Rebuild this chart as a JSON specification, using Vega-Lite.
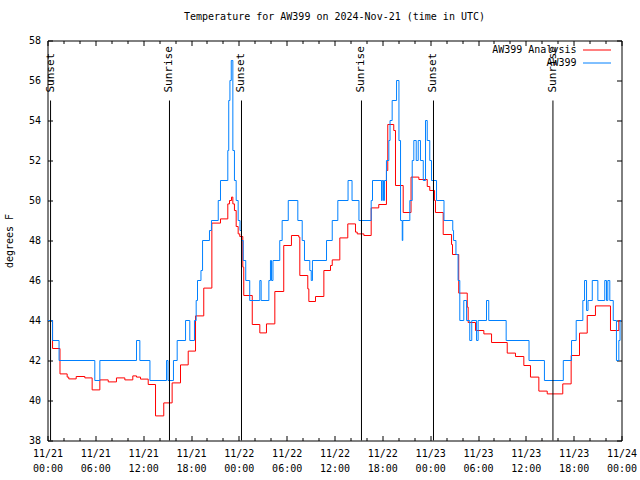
{
  "$schema": "https://vega.github.io/schema/vega-lite/v6.json",
  "width": 574,
  "height": 400,
  "autosize": {"type": "none"},
  "padding": {"left": 47.5, "top": 40.5, "right": 18.5, "bottom": 39.5},
  "title": {"text": "Temperature for AW399 on 2024-Nov-21 (time in UTC)", "offset": 14, "fontSize": 10, "font": "DejaVu Sans Mono", "fontWeight": "normal", "color": "black"},
  "datasets": {
    "obs": [
      {"t": "2024-11-21T00:00Z", "v": 44, "s": "AW399 Analysis"},
      {"t": "2024-11-21T00:38Z", "v": 42.6, "s": "AW399 Analysis"},
      {"t": "2024-11-21T01:34Z", "v": 41.33, "s": "AW399 Analysis"},
      {"t": "2024-11-21T02:28Z", "v": 41.17, "s": "AW399 Analysis"},
      {"t": "2024-11-21T02:40Z", "v": 41.08, "s": "AW399 Analysis"},
      {"t": "2024-11-21T03:36Z", "v": 41.2, "s": "AW399 Analysis"},
      {"t": "2024-11-21T04:41Z", "v": 41.13, "s": "AW399 Analysis"},
      {"t": "2024-11-21T05:36Z", "v": 40.53, "s": "AW399 Analysis"},
      {"t": "2024-11-21T06:34Z", "v": 41.03, "s": "AW399 Analysis"},
      {"t": "2024-11-21T07:37Z", "v": 40.93, "s": "AW399 Analysis"},
      {"t": "2024-11-21T08:39Z", "v": 41.13, "s": "AW399 Analysis"},
      {"t": "2024-11-21T09:42Z", "v": 41.03, "s": "AW399 Analysis"},
      {"t": "2024-11-21T10:42Z", "v": 41.23, "s": "AW399 Analysis"},
      {"t": "2024-11-21T11:10Z", "v": 41.17, "s": "AW399 Analysis"},
      {"t": "2024-11-21T11:40Z", "v": 41.07, "s": "AW399 Analysis"},
      {"t": "2024-11-21T12:38Z", "v": 40.8, "s": "AW399 Analysis"},
      {"t": "2024-11-21T13:33Z", "v": 39.23, "s": "AW399 Analysis"},
      {"t": "2024-11-21T14:35Z", "v": 39.88, "s": "AW399 Analysis"},
      {"t": "2024-11-21T15:38Z", "v": 40.88, "s": "AW399 Analysis"},
      {"t": "2024-11-21T16:41Z", "v": 41.78, "s": "AW399 Analysis"},
      {"t": "2024-11-21T17:39Z", "v": 42.47, "s": "AW399 Analysis"},
      {"t": "2024-11-21T18:34Z", "v": 44.23, "s": "AW399 Analysis"},
      {"t": "2024-11-21T19:36Z", "v": 45.62, "s": "AW399 Analysis"},
      {"t": "2024-11-21T20:37Z", "v": 48.87, "s": "AW399 Analysis"},
      {"t": "2024-11-21T21:42Z", "v": 49.08, "s": "AW399 Analysis"},
      {"t": "2024-11-21T22:37Z", "v": 49.83, "s": "AW399 Analysis"},
      {"t": "2024-11-21T22:50Z", "v": 50, "s": "AW399 Analysis"},
      {"t": "2024-11-21T23:05Z", "v": 50.17, "s": "AW399 Analysis"},
      {"t": "2024-11-21T23:15Z", "v": 49.83, "s": "AW399 Analysis"},
      {"t": "2024-11-21T23:27Z", "v": 49.5, "s": "AW399 Analysis"},
      {"t": "2024-11-21T23:40Z", "v": 48.7, "s": "AW399 Analysis"},
      {"t": "2024-11-21T23:55Z", "v": 48.33, "s": "AW399 Analysis"},
      {"t": "2024-11-22T00:07Z", "v": 48.2, "s": "AW399 Analysis"},
      {"t": "2024-11-22T00:30Z", "v": 46.67, "s": "AW399 Analysis"},
      {"t": "2024-11-22T00:37Z", "v": 45.25, "s": "AW399 Analysis"},
      {"t": "2024-11-22T01:41Z", "v": 43.8, "s": "AW399 Analysis"},
      {"t": "2024-11-22T02:38Z", "v": 43.38, "s": "AW399 Analysis"},
      {"t": "2024-11-22T03:28Z", "v": 43.83, "s": "AW399 Analysis"},
      {"t": "2024-11-22T04:31Z", "v": 45.45, "s": "AW399 Analysis"},
      {"t": "2024-11-22T05:38Z", "v": 47.75, "s": "AW399 Analysis"},
      {"t": "2024-11-22T06:36Z", "v": 48.25, "s": "AW399 Analysis"},
      {"t": "2024-11-22T07:31Z", "v": 48.17, "s": "AW399 Analysis"},
      {"t": "2024-11-22T07:39Z", "v": 46.25, "s": "AW399 Analysis"},
      {"t": "2024-11-22T08:39Z", "v": 45.58, "s": "AW399 Analysis"},
      {"t": "2024-11-22T08:47Z", "v": 44.95, "s": "AW399 Analysis"},
      {"t": "2024-11-22T09:37Z", "v": 45.2, "s": "AW399 Analysis"},
      {"t": "2024-11-22T10:40Z", "v": 46.5, "s": "AW399 Analysis"},
      {"t": "2024-11-22T11:30Z", "v": 46.75, "s": "AW399 Analysis"},
      {"t": "2024-11-22T11:43Z", "v": 47.03, "s": "AW399 Analysis"},
      {"t": "2024-11-22T12:40Z", "v": 48.13, "s": "AW399 Analysis"},
      {"t": "2024-11-22T13:40Z", "v": 48.83, "s": "AW399 Analysis"},
      {"t": "2024-11-22T14:38Z", "v": 48.42, "s": "AW399 Analysis"},
      {"t": "2024-11-22T14:51Z", "v": 48.33, "s": "AW399 Analysis"},
      {"t": "2024-11-22T15:41Z", "v": 48.25, "s": "AW399 Analysis"},
      {"t": "2024-11-22T16:36Z", "v": 49.63, "s": "AW399 Analysis"},
      {"t": "2024-11-22T17:33Z", "v": 49.8, "s": "AW399 Analysis"},
      {"t": "2024-11-22T18:31Z", "v": 51.5, "s": "AW399 Analysis"},
      {"t": "2024-11-22T18:41Z", "v": 53.8, "s": "AW399 Analysis"},
      {"t": "2024-11-22T19:26Z", "v": 53.5, "s": "AW399 Analysis"},
      {"t": "2024-11-22T19:39Z", "v": 50.75, "s": "AW399 Analysis"},
      {"t": "2024-11-22T20:37Z", "v": 49.4, "s": "AW399 Analysis"},
      {"t": "2024-11-22T21:36Z", "v": 51.17, "s": "AW399 Analysis"},
      {"t": "2024-11-22T22:35Z", "v": 51.05, "s": "AW399 Analysis"},
      {"t": "2024-11-22T23:38Z", "v": 50.7, "s": "AW399 Analysis"},
      {"t": "2024-11-22T23:57Z", "v": 50.5, "s": "AW399 Analysis"},
      {"t": "2024-11-23T00:33Z", "v": 50, "s": "AW399 Analysis"},
      {"t": "2024-11-23T00:40Z", "v": 49.4, "s": "AW399 Analysis"},
      {"t": "2024-11-23T01:38Z", "v": 48.3, "s": "AW399 Analysis"},
      {"t": "2024-11-23T02:41Z", "v": 47.8, "s": "AW399 Analysis"},
      {"t": "2024-11-23T02:48Z", "v": 47.3, "s": "AW399 Analysis"},
      {"t": "2024-11-23T03:35Z", "v": 45.37, "s": "AW399 Analysis"},
      {"t": "2024-11-23T04:39Z", "v": 44.67, "s": "AW399 Analysis"},
      {"t": "2024-11-23T04:46Z", "v": 43.9, "s": "AW399 Analysis"},
      {"t": "2024-11-23T05:41Z", "v": 43.5, "s": "AW399 Analysis"},
      {"t": "2024-11-23T06:44Z", "v": 43.33, "s": "AW399 Analysis"},
      {"t": "2024-11-23T07:42Z", "v": 42.9, "s": "AW399 Analysis"},
      {"t": "2024-11-23T09:40Z", "v": 42.37, "s": "AW399 Analysis"},
      {"t": "2024-11-23T10:42Z", "v": 42.2, "s": "AW399 Analysis"},
      {"t": "2024-11-23T11:45Z", "v": 41.75, "s": "AW399 Analysis"},
      {"t": "2024-11-23T12:35Z", "v": 41.17, "s": "AW399 Analysis"},
      {"t": "2024-11-23T13:38Z", "v": 40.47, "s": "AW399 Analysis"},
      {"t": "2024-11-23T14:41Z", "v": 40.33, "s": "AW399 Analysis"},
      {"t": "2024-11-23T16:38Z", "v": 40.83, "s": "AW399 Analysis"},
      {"t": "2024-11-23T17:41Z", "v": 42.25, "s": "AW399 Analysis"},
      {"t": "2024-11-23T18:44Z", "v": 43.37, "s": "AW399 Analysis"},
      {"t": "2024-11-23T19:42Z", "v": 44.25, "s": "AW399 Analysis"},
      {"t": "2024-11-23T20:44Z", "v": 44.73, "s": "AW399 Analysis"},
      {"t": "2024-11-23T22:37Z", "v": 43.5, "s": "AW399 Analysis"},
      {"t": "2024-11-23T23:40Z", "v": 44, "s": "AW399 Analysis"},
      {"t": "2024-11-24T00:00Z", "v": 44, "s": "AW399 Analysis"},
      {"t": "2024-11-21T00:00Z", "v": 44, "s": "AW399"},
      {"t": "2024-11-21T00:38Z", "v": 43, "s": "AW399"},
      {"t": "2024-11-21T01:27Z", "v": 42, "s": "AW399"},
      {"t": "2024-11-21T05:56Z", "v": 41, "s": "AW399"},
      {"t": "2024-11-21T06:34Z", "v": 42, "s": "AW399"},
      {"t": "2024-11-21T11:10Z", "v": 43, "s": "AW399"},
      {"t": "2024-11-21T11:35Z", "v": 42, "s": "AW399"},
      {"t": "2024-11-21T12:51Z", "v": 41, "s": "AW399"},
      {"t": "2024-11-21T14:56Z", "v": 42, "s": "AW399"},
      {"t": "2024-11-21T15:07Z", "v": 41, "s": "AW399"},
      {"t": "2024-11-21T15:48Z", "v": 42, "s": "AW399"},
      {"t": "2024-11-21T16:16Z", "v": 43, "s": "AW399"},
      {"t": "2024-11-21T17:19Z", "v": 44, "s": "AW399"},
      {"t": "2024-11-21T17:51Z", "v": 43, "s": "AW399"},
      {"t": "2024-11-21T18:26Z", "v": 44, "s": "AW399"},
      {"t": "2024-11-21T18:39Z", "v": 45, "s": "AW399"},
      {"t": "2024-11-21T18:49Z", "v": 46, "s": "AW399"},
      {"t": "2024-11-21T19:15Z", "v": 46.5, "s": "AW399"},
      {"t": "2024-11-21T19:27Z", "v": 48, "s": "AW399"},
      {"t": "2024-11-21T20:19Z", "v": 48.5, "s": "AW399"},
      {"t": "2024-11-21T20:34Z", "v": 49, "s": "AW399"},
      {"t": "2024-11-21T21:25Z", "v": 50, "s": "AW399"},
      {"t": "2024-11-21T21:42Z", "v": 51, "s": "AW399"},
      {"t": "2024-11-21T22:37Z", "v": 52.5, "s": "AW399"},
      {"t": "2024-11-21T22:44Z", "v": 55, "s": "AW399"},
      {"t": "2024-11-21T22:53Z", "v": 56, "s": "AW399"},
      {"t": "2024-11-21T23:03Z", "v": 57, "s": "AW399"},
      {"t": "2024-11-21T23:15Z", "v": 52.5, "s": "AW399"},
      {"t": "2024-11-21T23:27Z", "v": 51, "s": "AW399"},
      {"t": "2024-11-21T23:40Z", "v": 50, "s": "AW399"},
      {"t": "2024-11-21T23:55Z", "v": 49, "s": "AW399"},
      {"t": "2024-11-22T00:09Z", "v": 48.5, "s": "AW399"},
      {"t": "2024-11-22T00:20Z", "v": 48, "s": "AW399"},
      {"t": "2024-11-22T00:33Z", "v": 47, "s": "AW399"},
      {"t": "2024-11-22T00:52Z", "v": 46, "s": "AW399"},
      {"t": "2024-11-22T01:22Z", "v": 45, "s": "AW399"},
      {"t": "2024-11-22T02:38Z", "v": 46, "s": "AW399"},
      {"t": "2024-11-22T02:48Z", "v": 45, "s": "AW399"},
      {"t": "2024-11-22T03:46Z", "v": 46, "s": "AW399"},
      {"t": "2024-11-22T03:58Z", "v": 47, "s": "AW399"},
      {"t": "2024-11-22T04:06Z", "v": 46, "s": "AW399"},
      {"t": "2024-11-22T04:17Z", "v": 47, "s": "AW399"},
      {"t": "2024-11-22T05:08Z", "v": 48, "s": "AW399"},
      {"t": "2024-11-22T05:26Z", "v": 49, "s": "AW399"},
      {"t": "2024-11-22T06:12Z", "v": 50, "s": "AW399"},
      {"t": "2024-11-22T07:24Z", "v": 49, "s": "AW399"},
      {"t": "2024-11-22T07:57Z", "v": 48, "s": "AW399"},
      {"t": "2024-11-22T08:14Z", "v": 47, "s": "AW399"},
      {"t": "2024-11-22T08:54Z", "v": 46.5, "s": "AW399"},
      {"t": "2024-11-22T09:05Z", "v": 46, "s": "AW399"},
      {"t": "2024-11-22T09:14Z", "v": 47, "s": "AW399"},
      {"t": "2024-11-22T11:00Z", "v": 48, "s": "AW399"},
      {"t": "2024-11-22T11:43Z", "v": 49, "s": "AW399"},
      {"t": "2024-11-22T12:25Z", "v": 50, "s": "AW399"},
      {"t": "2024-11-22T13:42Z", "v": 51, "s": "AW399"},
      {"t": "2024-11-22T14:12Z", "v": 50, "s": "AW399"},
      {"t": "2024-11-22T15:04Z", "v": 49, "s": "AW399"},
      {"t": "2024-11-22T16:36Z", "v": 50, "s": "AW399"},
      {"t": "2024-11-22T16:46Z", "v": 51, "s": "AW399"},
      {"t": "2024-11-22T17:54Z", "v": 50, "s": "AW399"},
      {"t": "2024-11-22T17:59Z", "v": 51, "s": "AW399"},
      {"t": "2024-11-22T18:09Z", "v": 50, "s": "AW399"},
      {"t": "2024-11-22T18:16Z", "v": 51, "s": "AW399"},
      {"t": "2024-11-22T18:31Z", "v": 52, "s": "AW399"},
      {"t": "2024-11-22T18:49Z", "v": 53, "s": "AW399"},
      {"t": "2024-11-22T18:58Z", "v": 54, "s": "AW399"},
      {"t": "2024-11-22T19:14Z", "v": 55, "s": "AW399"},
      {"t": "2024-11-22T19:47Z", "v": 56, "s": "AW399"},
      {"t": "2024-11-22T20:05Z", "v": 53, "s": "AW399"},
      {"t": "2024-11-22T20:17Z", "v": 49, "s": "AW399"},
      {"t": "2024-11-22T20:30Z", "v": 48, "s": "AW399"},
      {"t": "2024-11-22T20:34Z", "v": 49, "s": "AW399"},
      {"t": "2024-11-22T21:27Z", "v": 50, "s": "AW399"},
      {"t": "2024-11-22T21:45Z", "v": 52, "s": "AW399"},
      {"t": "2024-11-22T21:57Z", "v": 53, "s": "AW399"},
      {"t": "2024-11-22T22:15Z", "v": 52, "s": "AW399"},
      {"t": "2024-11-22T22:30Z", "v": 53, "s": "AW399"},
      {"t": "2024-11-22T22:47Z", "v": 52, "s": "AW399"},
      {"t": "2024-11-22T23:08Z", "v": 51, "s": "AW399"},
      {"t": "2024-11-22T23:25Z", "v": 54, "s": "AW399"},
      {"t": "2024-11-22T23:38Z", "v": 53, "s": "AW399"},
      {"t": "2024-11-22T23:57Z", "v": 52, "s": "AW399"},
      {"t": "2024-11-23T00:10Z", "v": 51, "s": "AW399"},
      {"t": "2024-11-23T00:48Z", "v": 50, "s": "AW399"},
      {"t": "2024-11-23T01:44Z", "v": 49, "s": "AW399"},
      {"t": "2024-11-23T02:50Z", "v": 48.5, "s": "AW399"},
      {"t": "2024-11-23T02:56Z", "v": 48, "s": "AW399"},
      {"t": "2024-11-23T03:14Z", "v": 47.3, "s": "AW399"},
      {"t": "2024-11-23T03:30Z", "v": 46, "s": "AW399"},
      {"t": "2024-11-23T03:43Z", "v": 44, "s": "AW399"},
      {"t": "2024-11-23T04:13Z", "v": 45, "s": "AW399"},
      {"t": "2024-11-23T04:34Z", "v": 44, "s": "AW399"},
      {"t": "2024-11-23T04:58Z", "v": 43, "s": "AW399"},
      {"t": "2024-11-23T05:13Z", "v": 44, "s": "AW399"},
      {"t": "2024-11-23T05:49Z", "v": 43, "s": "AW399"},
      {"t": "2024-11-23T06:01Z", "v": 44, "s": "AW399"},
      {"t": "2024-11-23T07:04Z", "v": 45, "s": "AW399"},
      {"t": "2024-11-23T07:21Z", "v": 44, "s": "AW399"},
      {"t": "2024-11-23T09:32Z", "v": 43, "s": "AW399"},
      {"t": "2024-11-23T12:24Z", "v": 42, "s": "AW399"},
      {"t": "2024-11-23T14:20Z", "v": 41, "s": "AW399"},
      {"t": "2024-11-23T16:42Z", "v": 42, "s": "AW399"},
      {"t": "2024-11-23T17:44Z", "v": 43, "s": "AW399"},
      {"t": "2024-11-23T18:19Z", "v": 44, "s": "AW399"},
      {"t": "2024-11-23T19:09Z", "v": 45, "s": "AW399"},
      {"t": "2024-11-23T19:22Z", "v": 46, "s": "AW399"},
      {"t": "2024-11-23T19:37Z", "v": 44.5, "s": "AW399"},
      {"t": "2024-11-23T19:48Z", "v": 45, "s": "AW399"},
      {"t": "2024-11-23T20:20Z", "v": 46, "s": "AW399"},
      {"t": "2024-11-23T21:02Z", "v": 45, "s": "AW399"},
      {"t": "2024-11-23T21:54Z", "v": 46, "s": "AW399"},
      {"t": "2024-11-23T22:07Z", "v": 45, "s": "AW399"},
      {"t": "2024-11-23T22:17Z", "v": 46, "s": "AW399"},
      {"t": "2024-11-23T22:32Z", "v": 45, "s": "AW399"},
      {"t": "2024-11-23T22:58Z", "v": 44, "s": "AW399"},
      {"t": "2024-11-23T23:22Z", "v": 42, "s": "AW399"},
      {"t": "2024-11-23T23:40Z", "v": 43, "s": "AW399"},
      {"t": "2024-11-23T23:49Z", "v": 44, "s": "AW399"},
      {"t": "2024-11-24T00:00Z", "v": 44, "s": "AW399"}
    ],
    "sun": [
      {"t": "2024-11-21T00:23Z", "e": "Sunset"},
      {"t": "2024-11-21T15:18Z", "e": "Sunrise"},
      {"t": "2024-11-22T00:20Z", "e": "Sunset"},
      {"t": "2024-11-22T15:23Z", "e": "Sunrise"},
      {"t": "2024-11-23T00:25Z", "e": "Sunset"},
      {"t": "2024-11-23T15:24Z", "e": "Sunrise"}
    ]
  },
  "layer": [
    {
      "data": {"name": "obs"},
      "mark": {"type": "line", "interpolate": "step-after", "strokeWidth": 1, "clip": true},
      "encoding": {
        "x": {
          "field": "t", "type": "temporal",
          "scale": {"type": "utc", "nice": false, "domain": [{"year": 2024, "month": 11, "date": 21, "utc": true}, {"year": 2024, "month": 11, "date": 24, "utc": true}]},
          "axis": {"orient": "bottom", "values": [
            {"year": 2024, "month": 11, "date": 21, "hours": 0, "utc": true},
            {"year": 2024, "month": 11, "date": 21, "hours": 6, "utc": true},
            {"year": 2024, "month": 11, "date": 21, "hours": 12, "utc": true},
            {"year": 2024, "month": 11, "date": 21, "hours": 18, "utc": true},
            {"year": 2024, "month": 11, "date": 22, "hours": 0, "utc": true},
            {"year": 2024, "month": 11, "date": 22, "hours": 6, "utc": true},
            {"year": 2024, "month": 11, "date": 22, "hours": 12, "utc": true},
            {"year": 2024, "month": 11, "date": 22, "hours": 18, "utc": true},
            {"year": 2024, "month": 11, "date": 23, "hours": 0, "utc": true},
            {"year": 2024, "month": 11, "date": 23, "hours": 6, "utc": true},
            {"year": 2024, "month": 11, "date": 23, "hours": 12, "utc": true},
            {"year": 2024, "month": 11, "date": 23, "hours": 18, "utc": true},
            {"year": 2024, "month": 11, "date": 24, "hours": 0, "utc": true}
          ], "ticks": false, "tickSize": 0, "labelPadding": 8, "labelExpr": "[utcFormat(datum.value, '%m/%d'), utcFormat(datum.value, '%H:%M')]", "labelLineHeight": 15, "labelFlush": false, "labelOverlap": false, "labelBound": false, "title": null}
        },
        "y": {
          "field": "v", "type": "quantitative",
          "scale": {"domain": [38, 58], "nice": false, "zero": false},
          "axis": {"orient": "left", "values": [38, 40, 42, 44, 46, 48, 50, 52, 54, 56, 58], "ticks": false, "tickSize": 0, "labelPadding": 7, "title": "degrees F", "titlePadding": 14}
        },
        "color": {
          "field": "s", "type": "nominal",
          "scale": {"domain": ["AW399 Analysis", "AW399"], "range": ["#ff0000", "#0080ff"]},
          "legend": {"title": null, "orient": "none", "legendX": 521, "legendY": 2, "symbolType": "M1,0H5", "symbolSize": 196, "symbolStrokeWidth": 1, "labelFont": "DejaVu Sans Mono", "labelFontSize": 10, "labelColor": "black", "labelAlign": "right", "labelOffset": -7, "rowPadding": 0}
        }
      }
    },
    {
      "data": {"name": "sun"},
      "mark": {"type": "rule", "color": "black", "strokeWidth": 1},
      "encoding": {
        "x": {
          "field": "t", "type": "temporal",
          "scale": {"type": "utc", "nice": false, "domain": [{"year": 2024, "month": 11, "date": 21, "utc": true}, {"year": 2024, "month": 11, "date": 24, "utc": true}]},
          "axis": {"orient": "bottom", "offset": -5, "tickSize": 5, "labels": false, "title": null, "values": [
            {"year": 2024, "month": 11, "date": 21, "hours": 0, "utc": true},
            {"year": 2024, "month": 11, "date": 21, "hours": 6, "utc": true},
            {"year": 2024, "month": 11, "date": 21, "hours": 12, "utc": true},
            {"year": 2024, "month": 11, "date": 21, "hours": 18, "utc": true},
            {"year": 2024, "month": 11, "date": 22, "hours": 0, "utc": true},
            {"year": 2024, "month": 11, "date": 22, "hours": 6, "utc": true},
            {"year": 2024, "month": 11, "date": 22, "hours": 12, "utc": true},
            {"year": 2024, "month": 11, "date": 22, "hours": 18, "utc": true},
            {"year": 2024, "month": 11, "date": 23, "hours": 0, "utc": true},
            {"year": 2024, "month": 11, "date": 23, "hours": 6, "utc": true},
            {"year": 2024, "month": 11, "date": 23, "hours": 12, "utc": true},
            {"year": 2024, "month": 11, "date": 23, "hours": 18, "utc": true},
            {"year": 2024, "month": 11, "date": 24, "hours": 0, "utc": true}
          ]}
        },
        "y": {
          "datum": 55, "type": "quantitative",
          "scale": {"domain": [38, 58], "nice": false, "zero": false},
          "axis": {"orient": "left", "offset": -5, "tickSize": 5, "labels": false, "title": null, "values": [38, 40, 42, 44, 46, 48, 50, 52, 54, 56, 58]}
        },
        "y2": {"datum": 38}
      }
    },
    {
      "data": {"name": "sun"},
      "mark": {"type": "text", "angle": 270, "align": "left", "baseline": "middle", "fontSize": 11, "font": "DejaVu Sans Mono", "color": "black"},
      "encoding": {
        "x": {
          "field": "t", "type": "temporal",
          "scale": {"type": "utc", "nice": false, "domain": [{"year": 2024, "month": 11, "date": 21, "utc": true}, {"year": 2024, "month": 11, "date": 24, "utc": true}]},
          "axis": {"orient": "top", "offset": -5, "tickSize": 5, "labels": false, "title": null, "values": [
            {"year": 2024, "month": 11, "date": 21, "hours": 0, "utc": true},
            {"year": 2024, "month": 11, "date": 21, "hours": 6, "utc": true},
            {"year": 2024, "month": 11, "date": 21, "hours": 12, "utc": true},
            {"year": 2024, "month": 11, "date": 21, "hours": 18, "utc": true},
            {"year": 2024, "month": 11, "date": 22, "hours": 0, "utc": true},
            {"year": 2024, "month": 11, "date": 22, "hours": 6, "utc": true},
            {"year": 2024, "month": 11, "date": 22, "hours": 12, "utc": true},
            {"year": 2024, "month": 11, "date": 22, "hours": 18, "utc": true},
            {"year": 2024, "month": 11, "date": 23, "hours": 0, "utc": true},
            {"year": 2024, "month": 11, "date": 23, "hours": 6, "utc": true},
            {"year": 2024, "month": 11, "date": 23, "hours": 12, "utc": true},
            {"year": 2024, "month": 11, "date": 23, "hours": 18, "utc": true},
            {"year": 2024, "month": 11, "date": 24, "hours": 0, "utc": true}
          ]}
        },
        "y": {
          "datum": 55.4, "type": "quantitative",
          "scale": {"domain": [38, 58], "nice": false, "zero": false},
          "axis": {"orient": "right", "offset": -5, "tickSize": 5, "labels": false, "title": null, "values": [38, 40, 42, 44, 46, 48, 50, 52, 54, 56, 58]}
        },
        "text": {"field": "e"}
      }
    },
    {
      "data": {"name": "sun"},
      "mark": {"type": "rule", "opacity": 0},
      "encoding": {
        "x": {
          "field": "t", "type": "temporal",
          "scale": {"type": "utc", "nice": false, "domain": [{"year": 2024, "month": 11, "date": 21, "utc": true}, {"year": 2024, "month": 11, "date": 24, "utc": true}]},
          "axis": {"orient": "bottom", "offset": -3, "tickSize": 3, "labels": false, "title": null, "values": [
            {"year": 2024, "month": 11, "date": 21, "hours": 2, "utc": true},
            {"year": 2024, "month": 11, "date": 21, "hours": 4, "utc": true},
            {"year": 2024, "month": 11, "date": 21, "hours": 8, "utc": true},
            {"year": 2024, "month": 11, "date": 21, "hours": 10, "utc": true},
            {"year": 2024, "month": 11, "date": 21, "hours": 14, "utc": true},
            {"year": 2024, "month": 11, "date": 21, "hours": 16, "utc": true},
            {"year": 2024, "month": 11, "date": 21, "hours": 20, "utc": true},
            {"year": 2024, "month": 11, "date": 21, "hours": 22, "utc": true},
            {"year": 2024, "month": 11, "date": 22, "hours": 2, "utc": true},
            {"year": 2024, "month": 11, "date": 22, "hours": 4, "utc": true},
            {"year": 2024, "month": 11, "date": 22, "hours": 8, "utc": true},
            {"year": 2024, "month": 11, "date": 22, "hours": 10, "utc": true},
            {"year": 2024, "month": 11, "date": 22, "hours": 14, "utc": true},
            {"year": 2024, "month": 11, "date": 22, "hours": 16, "utc": true},
            {"year": 2024, "month": 11, "date": 22, "hours": 20, "utc": true},
            {"year": 2024, "month": 11, "date": 22, "hours": 22, "utc": true},
            {"year": 2024, "month": 11, "date": 23, "hours": 2, "utc": true},
            {"year": 2024, "month": 11, "date": 23, "hours": 4, "utc": true},
            {"year": 2024, "month": 11, "date": 23, "hours": 8, "utc": true},
            {"year": 2024, "month": 11, "date": 23, "hours": 10, "utc": true},
            {"year": 2024, "month": 11, "date": 23, "hours": 14, "utc": true},
            {"year": 2024, "month": 11, "date": 23, "hours": 16, "utc": true},
            {"year": 2024, "month": 11, "date": 23, "hours": 20, "utc": true},
            {"year": 2024, "month": 11, "date": 23, "hours": 22, "utc": true}
          ]}
        },
        "y": {"datum": 55, "type": "quantitative", "scale": {"domain": [38, 58], "nice": false, "zero": false}, "axis": null},
        "y2": {"datum": 38}
      }
    },
    {
      "data": {"name": "sun"},
      "mark": {"type": "rule", "opacity": 0},
      "encoding": {
        "x": {
          "field": "t", "type": "temporal",
          "scale": {"type": "utc", "nice": false, "domain": [{"year": 2024, "month": 11, "date": 21, "utc": true}, {"year": 2024, "month": 11, "date": 24, "utc": true}]},
          "axis": {"orient": "top", "offset": -3, "tickSize": 3, "labels": false, "title": null, "values": [
            {"year": 2024, "month": 11, "date": 21, "hours": 2, "utc": true},
            {"year": 2024, "month": 11, "date": 21, "hours": 4, "utc": true},
            {"year": 2024, "month": 11, "date": 21, "hours": 8, "utc": true},
            {"year": 2024, "month": 11, "date": 21, "hours": 10, "utc": true},
            {"year": 2024, "month": 11, "date": 21, "hours": 14, "utc": true},
            {"year": 2024, "month": 11, "date": 21, "hours": 16, "utc": true},
            {"year": 2024, "month": 11, "date": 21, "hours": 20, "utc": true},
            {"year": 2024, "month": 11, "date": 21, "hours": 22, "utc": true},
            {"year": 2024, "month": 11, "date": 22, "hours": 2, "utc": true},
            {"year": 2024, "month": 11, "date": 22, "hours": 4, "utc": true},
            {"year": 2024, "month": 11, "date": 22, "hours": 8, "utc": true},
            {"year": 2024, "month": 11, "date": 22, "hours": 10, "utc": true},
            {"year": 2024, "month": 11, "date": 22, "hours": 14, "utc": true},
            {"year": 2024, "month": 11, "date": 22, "hours": 16, "utc": true},
            {"year": 2024, "month": 11, "date": 22, "hours": 20, "utc": true},
            {"year": 2024, "month": 11, "date": 22, "hours": 22, "utc": true},
            {"year": 2024, "month": 11, "date": 23, "hours": 2, "utc": true},
            {"year": 2024, "month": 11, "date": 23, "hours": 4, "utc": true},
            {"year": 2024, "month": 11, "date": 23, "hours": 8, "utc": true},
            {"year": 2024, "month": 11, "date": 23, "hours": 10, "utc": true},
            {"year": 2024, "month": 11, "date": 23, "hours": 14, "utc": true},
            {"year": 2024, "month": 11, "date": 23, "hours": 16, "utc": true},
            {"year": 2024, "month": 11, "date": 23, "hours": 20, "utc": true},
            {"year": 2024, "month": 11, "date": 23, "hours": 22, "utc": true}
          ]}
        },
        "y": {"datum": 55, "type": "quantitative", "scale": {"domain": [38, 58], "nice": false, "zero": false}, "axis": null},
        "y2": {"datum": 38}
      }
    }
  ],
  "resolve": {"axis": {"x": "independent", "y": "independent"}},
  "config": {
    "font": "DejaVu Sans Mono",
    "view": {"stroke": "black", "strokeWidth": 1},
    "axis": {"grid": false, "domain": false, "labelFont": "DejaVu Sans Mono", "labelFontSize": 10, "labelColor": "black", "tickColor": "black", "tickWidth": 1, "titleFont": "DejaVu Sans Mono", "titleFontSize": 10, "titleFontWeight": "normal", "titleColor": "black"}
  }
}
